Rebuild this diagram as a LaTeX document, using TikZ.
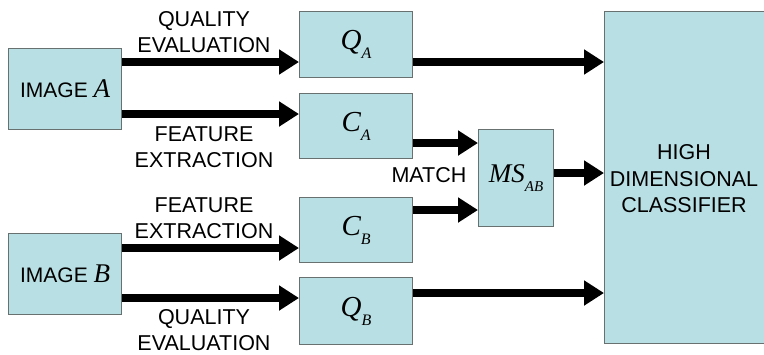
\documentclass[tikz,border=0pt]{standalone}
\usepackage{fontspec}
\setmainfont{Liberation Sans}
\newfontfamily\tms{Liberation Serif}
\usetikzlibrary{arrows.meta}
\definecolor{boxfill}{RGB}{184,223,227}
\definecolor{boxline}{RGB}{105,112,112}
\newcommand{\symb}[2]{{\tms\itshape\fontsize{29}{29}\selectfont #1\raisebox{-0.3em}{\fontsize{16}{16}\selectfont #2}}}
\begin{document}
\begin{tikzpicture}[x=1pt,y=-1pt,
  box/.style={draw=boxline, fill=boxfill, line width=1.2pt, inner sep=0pt, anchor=north west},
  fat/.style={line width=8pt, -{Triangle[length=20pt,width=24pt]}},
  lbl/.style={font=\fontsize{21.5}{26}\selectfont, align=center}]
\useasboundingbox (0,0) rectangle (764,354);
\begin{scope}
\clip (0,0) rectangle (764,354);
\node[box, minimum width=170pt, minimum height=332pt] (cls) at (604,11) {};
\end{scope}
\node[lbl, font=\fontsize{21.5}{26.5}\selectfont] (clst) at (684,179) {HIGH\\DIMENSIONAL\\CLASSIFIER};

\node[box, minimum width=113pt, minimum height=81pt] (imA) at (8,48)
  {\fontsize{21}{21}\selectfont IMAGE {\tms\itshape\fontsize{27}{27}\selectfont A}};
\node[box, minimum width=113pt, minimum height=81pt] (imB) at (8,233)
  {\fontsize{21}{21}\selectfont IMAGE {\tms\itshape\fontsize{27}{27}\selectfont B}};

\node[box, minimum width=113pt, minimum height=66pt] (qa) at (299,11) {\symb{Q}{A}};
\node[box, minimum width=113pt, minimum height=65pt] (ca) at (299,93) {\symb{C}{A}};
\node[box, minimum width=113pt, minimum height=65pt] (cb) at (299,197) {\symb{C}{B}};
\node[box, minimum width=113pt, minimum height=67pt] (qb) at (299,277) {\symb{Q}{B}};
\node[box, minimum width=75pt, minimum height=97pt] (ms) at (478,129) {{\tms\itshape\fontsize{27}{27}\selectfont MS\raisebox{-0.3em}{\fontsize{15}{15}\selectfont AB}}};

\node[lbl] (l1) at (204,32) {QUALITY\\EVALUATION};
\node[lbl] (l2) at (204,147) {FEATURE\\EXTRACTION};
\node[lbl] (l3) at (204,218) {FEATURE\\EXTRACTION};
\node[lbl] (l4) at (204,330) {QUALITY\\EVALUATION};
\node[lbl, anchor=center] (mt) at (429,175) {MATCH};

\draw[fat] (imA.east |- 0,62) -- (qa.west |- 0,62);
\draw[fat] (imA.east |- 0,114) -- (ca.west |- 0,114);
\draw[fat] (imB.east |- 0,248) -- (cb.west |- 0,248);
\draw[fat] (imB.east |- 0,298) -- (qb.west |- 0,298);
\draw[fat] (qa.east |- 0,62) -- (cls.west |- 0,62);
\draw[fat] (qb.east |- 0,293) -- (cls.west |- 0,293);
\draw[fat] (ca.east |- 0,143) -- (ms.west |- 0,143);
\draw[fat] (cb.east |- 0,210) -- (ms.west |- 0,210);
\draw[fat] (ms.east |- 0,173) -- (cls.west |- 0,173);
\end{tikzpicture}
\end{document}
